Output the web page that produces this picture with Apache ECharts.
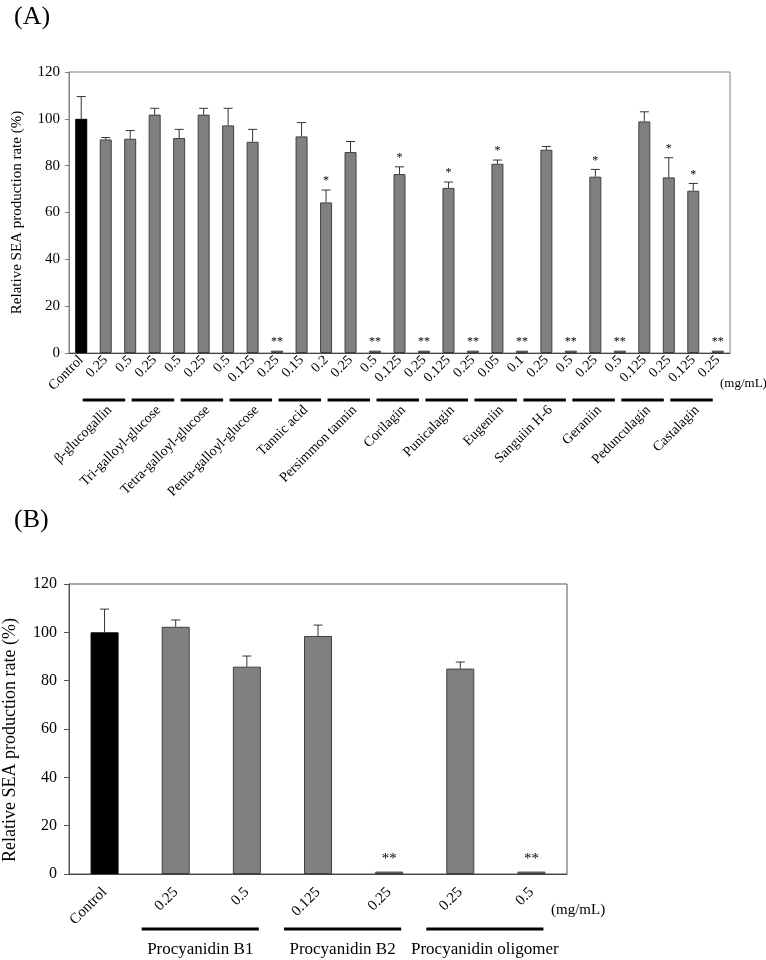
<!DOCTYPE html>
<html>
<head>
<meta charset="utf-8">
<script src="https://cdn.jsdelivr.net/npm/echarts@6/dist/echarts.min.js"></script>
<style>
html,body{margin:0;padding:0;background:#fff;}
#chart{width:766px;height:960px;}
</style>
</head>
<body>
<div id="chart"></div>
<script>
// ---------- Panel A data ----------
const dosesA = ['Control','0.25','0.5','0.25','0.5','0.25','0.5','0.125','0.25','0.15','0.2','0.25','0.5','0.125','0.25','0.125','0.25','0.05','0.1','0.25','0.5','0.25','0.5','0.125','0.25','0.125','0.25'];
const valuesA = [100, 91.2, 91.5, 101.8, 91.8, 101.8, 97.2, 90.2, 1, 92.5, 64.3, 85.8, 1, 76.4, 1, 70.5, 1, 80.8, 1, 86.8, 1, 75.3, 1, 98.9, 75, 69.3, 1];
const errorsA = [9.5, 0.8, 3.5, 2.7, 3.7, 2.7, 7.3, 5.3, 0, 5.9, 5.3, 4.5, 0, 3.1, 0, 2.5, 0, 1.6, 0, 1.4, 0, 3.1, 0, 4.1, 8.4, 3.1, 0];
const sigA = ['', '', '', '', '', '', '', '', '**', '', '*', '', '**', '*', '**', '*', '**', '*', '**', '', '**', '*', '**', '', '*', '*', '**'];
const groupNamesA = ['β-glucogallin','Tri-galloyl-glucose','Tetra-galloyl-glucose','Penta-galloyl-glucose','Tannic acid','Persimmon tannin','Corilagin','Punicalagin','Eugeniin','Sanguiin H-6','Geraniin','Pedunculagin','Castalagin'];
const groupStartA = [1,3,5,7,9,11,13,15,17,19,21,23,25];
const groupEndA   = [2,4,6,8,10,12,14,16,18,20,22,24,26];

// ---------- Panel B data ----------
const dosesB = ['Control','0.25','0.5','0.125','0.25','0.25','0.5'];
const valuesB = [100, 102.3, 85.8, 98.5, 1, 85, 1];
const errorsB = [9.6, 2.8, 4.4, 4.5, 0, 2.7, 0];
const sigB = ['', '', '', '', '**', '', '**'];
const groupNamesB = ['Procyanidin B1','Procyanidin B2','Procyanidin oligomer'];
const groupStartB = [1,3,5];
const groupEndB   = [2,4,6];

const yTicks = [0,20,40,60,80,100,120];
const yTitle = 'Relative SEA production rate (%)';

const SERIF = '"Liberation Serif","Times New Roman",serif';

function barData(vals){
  return vals.map((v,i)=> i===0 ? {value:v, itemStyle:{color:'#000', borderColor:'#000'}} : v);
}

function errRender(errs, sigs, cap, starFont, starGap){
  return function(params, api){
    const i = api.value(0), v = api.value(1), e = errs[params.dataIndex];
    const pBar = api.coord([i, v]);
    const pTop = api.coord([i, v + e]);
    const children = [];
    if (e > 0){
      children.push({type:'line', shape:{x1:pBar[0], y1:pBar[1], x2:pTop[0], y2:pTop[1]}, style:{stroke:'#333', lineWidth:1}});
      children.push({type:'line', shape:{x1:pTop[0]-cap, y1:pTop[1], x2:pTop[0]+cap, y2:pTop[1]}, style:{stroke:'#333', lineWidth:1}});
    }
    const s = sigs[params.dataIndex];
    if (s){
      children.push({type:'text', x:pTop[0], y:pTop[1]-starGap, style:{text:s, font:starFont, fill:'#000', align:'center', verticalAlign:'middle'}});
    }
    return {type:'group', children};
  };
}

function groupRender(names, cfg){
  return function(params, api){
    const c1 = api.coord([api.value(0), 0]);
    const c2 = api.coord([api.value(1), 0]);
    const y0 = c1[1] + cfg.dy;
    const children = [
      {type:'line', shape:{x1:c1[0]+cfg.l, y1:y0, x2:c2[0]+cfg.r, y2:y0}, style:{stroke:'#000', lineWidth:3}}
    ];
    if (cfg.rotate){
      children.push({type:'text', x:c1[0]+cfg.tx, y:y0+cfg.ty, rotation:Math.PI/4,
        style:{text:names[params.dataIndex], font:cfg.font, fill:'#000', align:'right', verticalAlign:'top'}});
    } else {
      children.push({type:'text', x:(c1[0]+cfg.l + c2[0]+cfg.r)/2, y:y0+cfg.ty,
        style:{text:names[params.dataIndex], font:cfg.font, fill:'#000', align:'center', verticalAlign:'middle'}});
    }
    return {type:'group', children};
  };
}

const chart = echarts.init(document.getElementById('chart'), null, {renderer:'canvas'});

const option = {
  animation:false,
  backgroundColor:'#fff',
  grid:[
    {left:69, top:72, width:661, height:281, show:true, borderColor:'#808080', borderWidth:1, backgroundColor:'transparent', containLabel:false, outerBoundsMode:'none'},
    {left:69, top:584, width:498, height:290, show:true, borderColor:'#555', borderWidth:1, backgroundColor:'transparent', containLabel:false, outerBoundsMode:'none'}
  ],
  xAxis:[
    {type:'category', gridIndex:0, data:dosesA, axisTick:{show:false},
     axisLine:{lineStyle:{color:'#444', width:1}},
     axisLabel:{interval:0, rotate:45, margin:5, fontSize:14, fontFamily:SERIF, color:'#000'}},
    {type:'category', gridIndex:1, data:dosesB, axisTick:{show:false},
     axisLine:{lineStyle:{color:'#444', width:1}},
     axisLabel:{interval:0, rotate:45, margin:16, fontSize:15, fontFamily:SERIF, color:'#000'}}
  ],
  yAxis:[
    {type:'value', gridIndex:0, min:0, max:120, interval:20,
     axisLine:{show:true, lineStyle:{color:'#808080'}},
     axisTick:{show:true, length:4, lineStyle:{color:'#808080'}},
     splitLine:{show:false},
     axisLabel:{margin:9, fontSize:15, fontFamily:SERIF, color:'#000',
       formatter:(v)=> yTicks.indexOf(v)>=0 ? String(v) : ''},
     name:yTitle, nameLocation:'middle', nameRotate:90, nameGap:44,
     nameTextStyle:{fontSize:15, fontFamily:SERIF, color:'#000'}},
    {type:'value', gridIndex:1, min:0, max:120, interval:20,
     axisLine:{show:true, lineStyle:{color:'#555'}},
     axisTick:{show:true, length:5, lineStyle:{color:'#555'}},
     splitLine:{show:false},
     axisLabel:{margin:12, fontSize:16, fontFamily:SERIF, color:'#000',
       formatter:(v)=> yTicks.indexOf(v)>=0 ? String(v) : ''},
     name:yTitle, nameLocation:'middle', nameRotate:90, nameGap:50,
     nameTextStyle:{fontSize:18, fontFamily:SERIF, color:'#000', padding:[0,22,0,0]}}
  ],
  series:[
    {type:'bar', xAxisIndex:0, yAxisIndex:0, data:barData(valuesA), barWidth:12,
     itemStyle:{color:'#808080', borderColor:'#404040', borderWidth:1}},
    {type:'custom', xAxisIndex:0, yAxisIndex:0, clip:false, z:5,
     data:valuesA.map((v,i)=>[i,v]),
     renderItem:errRender(errorsA, sigA, 4.5, '12px '+SERIF, 9)},
    {type:'custom', xAxisIndex:0, yAxisIndex:0, clip:false, z:5,
     data:groupStartA.map((s,k)=>[s, groupEndA[k], 0]), encode:{x:0, y:2},
     renderItem:groupRender(groupNamesA, {dy:47, l:-23, r:-5, rotate:true, tx:-1, ty:3, font:'14px '+SERIF})},

    {type:'bar', xAxisIndex:1, yAxisIndex:1, data:barData(valuesB), barWidth:28,
     itemStyle:{color:'#808080', borderColor:'#404040', borderWidth:1}},
    {type:'custom', xAxisIndex:1, yAxisIndex:1, clip:false, z:5,
     data:valuesB.map((v,i)=>[i,v]),
     renderItem:errRender(errorsB, sigB, 4.5, '15px '+SERIF, 13)},
    {type:'custom', xAxisIndex:1, yAxisIndex:1, clip:false, z:5,
     data:groupStartB.map((s,k)=>[s, groupEndB[k], 0]), encode:{x:0, y:2},
     renderItem:groupRender(groupNamesB, {dy:55, l:-34, r:12, rotate:false, ty:21, font:'17px '+SERIF})}
  ],
  graphic:[
    {type:'text', left:14, top:4, style:{text:'(A)', font:'26px '+SERIF, fill:'#000'}},
    {type:'text', left:14, top:507, style:{text:'(B)', font:'26px '+SERIF, fill:'#000'}},
    {type:'text', left:720, top:377, style:{text:'(mg/mL)', font:'13px '+SERIF, fill:'#000'}},
    {type:'text', left:551, top:903, style:{text:'(mg/mL)', font:'15px '+SERIF, fill:'#000'}}
  ]
};
chart.setOption(option);
</script>
</body>
</html>
